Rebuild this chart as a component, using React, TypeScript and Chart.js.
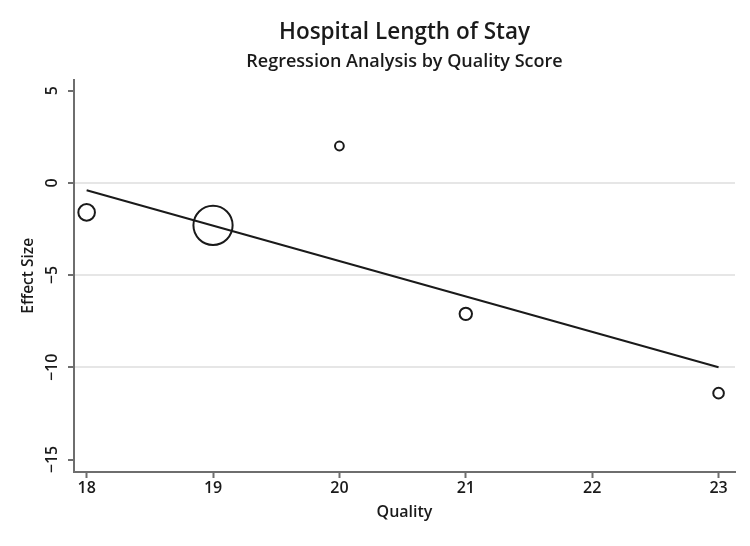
import React, { useEffect, useRef } from "react";
import { Chart, registerables } from "chart.js";

Chart.register(...registerables);

// ---- data ----
const QUALITY = [18, 19, 20, 21, 23];
const EFFECT = [-1.6, -2.3, 2.0, -7.1, -11.4];
const WEIGHT_RADIUS = [8.3, 19.6, 4.4, 6.2, 5.3];
const FIT_X = [18, 23];
const FIT_Y = [-0.4, -10.0];
const X_TICKS = [18, 19, 20, 21, 22, 23];
const Y_TICKS = [-15, -10, -5, 0, 5];
const Y_GRID = [-10, -5, 0];

const TITLE = "Hospital Length of Stay";
const SUBTITLE = "Regression Analysis by Quality Score";
const X_LABEL = "Quality";
const Y_LABEL = "Effect Size";

const FONT = "'Open Sans', 'Noto Sans', sans-serif";
const AXIS = "#6e6e6e";
const INK = "#1a1a1a";

const fmt = (v: number) => (v < 0 ? "\u2212" + Math.abs(v) : String(v));

export default function App() {
  const ref = useRef<HTMLCanvasElement | null>(null);

  useEffect(() => {
    if (!ref.current) return;
    const chart = new Chart(ref.current, {
      type: "bubble",
      data: {
        datasets: [
          {
            type: "line",
            data: FIT_X.map((x, i) => ({ x, y: FIT_Y[i] })),
            borderColor: INK,
            borderWidth: 2,
            pointRadius: 0,
            fill: false,
          } as any,
          {
            type: "bubble",
            data: QUALITY.map((x, i) => ({ x, y: EFFECT[i], r: WEIGHT_RADIUS[i] })),
            backgroundColor: "rgba(0,0,0,0)",
            borderColor: INK,
            borderWidth: 2,
          },
        ],
      },
      options: {
        animation: false,
        responsive: false,
        devicePixelRatio: 1,
        layout: { autoPadding: false, padding: { left: 0, right: 7, top: 0, bottom: 0 } },
        plugins: {
          legend: { display: false },
          tooltip: { enabled: false },
          title: {
            display: true,
            text: TITLE,
            fullSize: false,
            color: INK,
            font: { family: FONT, size: 22.5, weight: 600 },
            padding: { top: 11, bottom: 0 },
          },
          subtitle: {
            display: true,
            text: SUBTITLE,
            fullSize: false,
            color: INK,
            font: { family: FONT, size: 18, weight: 600 },
            padding: { top: 5, bottom: 7 },
          },
        },
        scales: {
          x: {
            type: "linear",
            min: 17.9,
            max: 23.13,
            afterBuildTicks: (s: any) => {
              s.ticks = X_TICKS.map((v) => ({ value: v }));
            },
            afterFit: (s: any) => {
              s.height = 66;
              s.paddingLeft = 0;
              s.paddingRight = 0;
            },
            grid: {
              drawOnChartArea: false,
              drawTicks: true,
              tickLength: 6,
              tickColor: AXIS,
              tickWidth: 2,
            },
            border: { display: true, color: AXIS, width: 2 },
            ticks: {
              padding: 1,
              color: INK,
              font: { family: FONT, size: 16, weight: 600 },
              callback: (v: any) => fmt(Number(v)),
            },
            title: {
              display: true,
              text: X_LABEL,
              color: INK,
              font: { family: FONT, size: 16, weight: 600 },
              padding: { top: 0, bottom: 16 },
            },
          },
          y: {
            type: "linear",
            min: -15.675,
            max: 5.6,
            afterBuildTicks: (s: any) => {
              s.ticks = Y_TICKS.map((v) => ({ value: v }));
            },
            afterFit: (s: any) => {
              s.width = 66;
              s.paddingTop = 0;
              s.paddingBottom = 0;
            },
            grid: {
              drawOnChartArea: true,
              drawTicks: true,
              tickLength: 6,
              tickColor: AXIS,
              tickWidth: 2,
              lineWidth: 2,
              color: (ctx: any) =>
                ctx.tick && Y_GRID.includes(ctx.tick.value) ? "#e6e6e6" : "rgba(0,0,0,0)",
            },
            border: { display: true, color: AXIS, width: 2 },
            ticks: {
              padding: 2,
              minRotation: 90,
              maxRotation: 90,
              crossAlign: "center",
              color: INK,
              font: { family: FONT, size: 16, weight: 600 },
              callback: (v: any) => fmt(Number(v)),
            },
            title: {
              display: true,
              text: Y_LABEL,
              color: INK,
              font: { family: FONT, size: 15.5, weight: 600 },
              padding: { top: 11, bottom: 0 },
            },
          },
        },
      } as any,
    });
    return () => chart.destroy();
  }, []);

  return (
    <div style={{ width: 734, height: 530 }}>
      <canvas ref={ref} width={734} height={530} />
    </div>
  );
}
